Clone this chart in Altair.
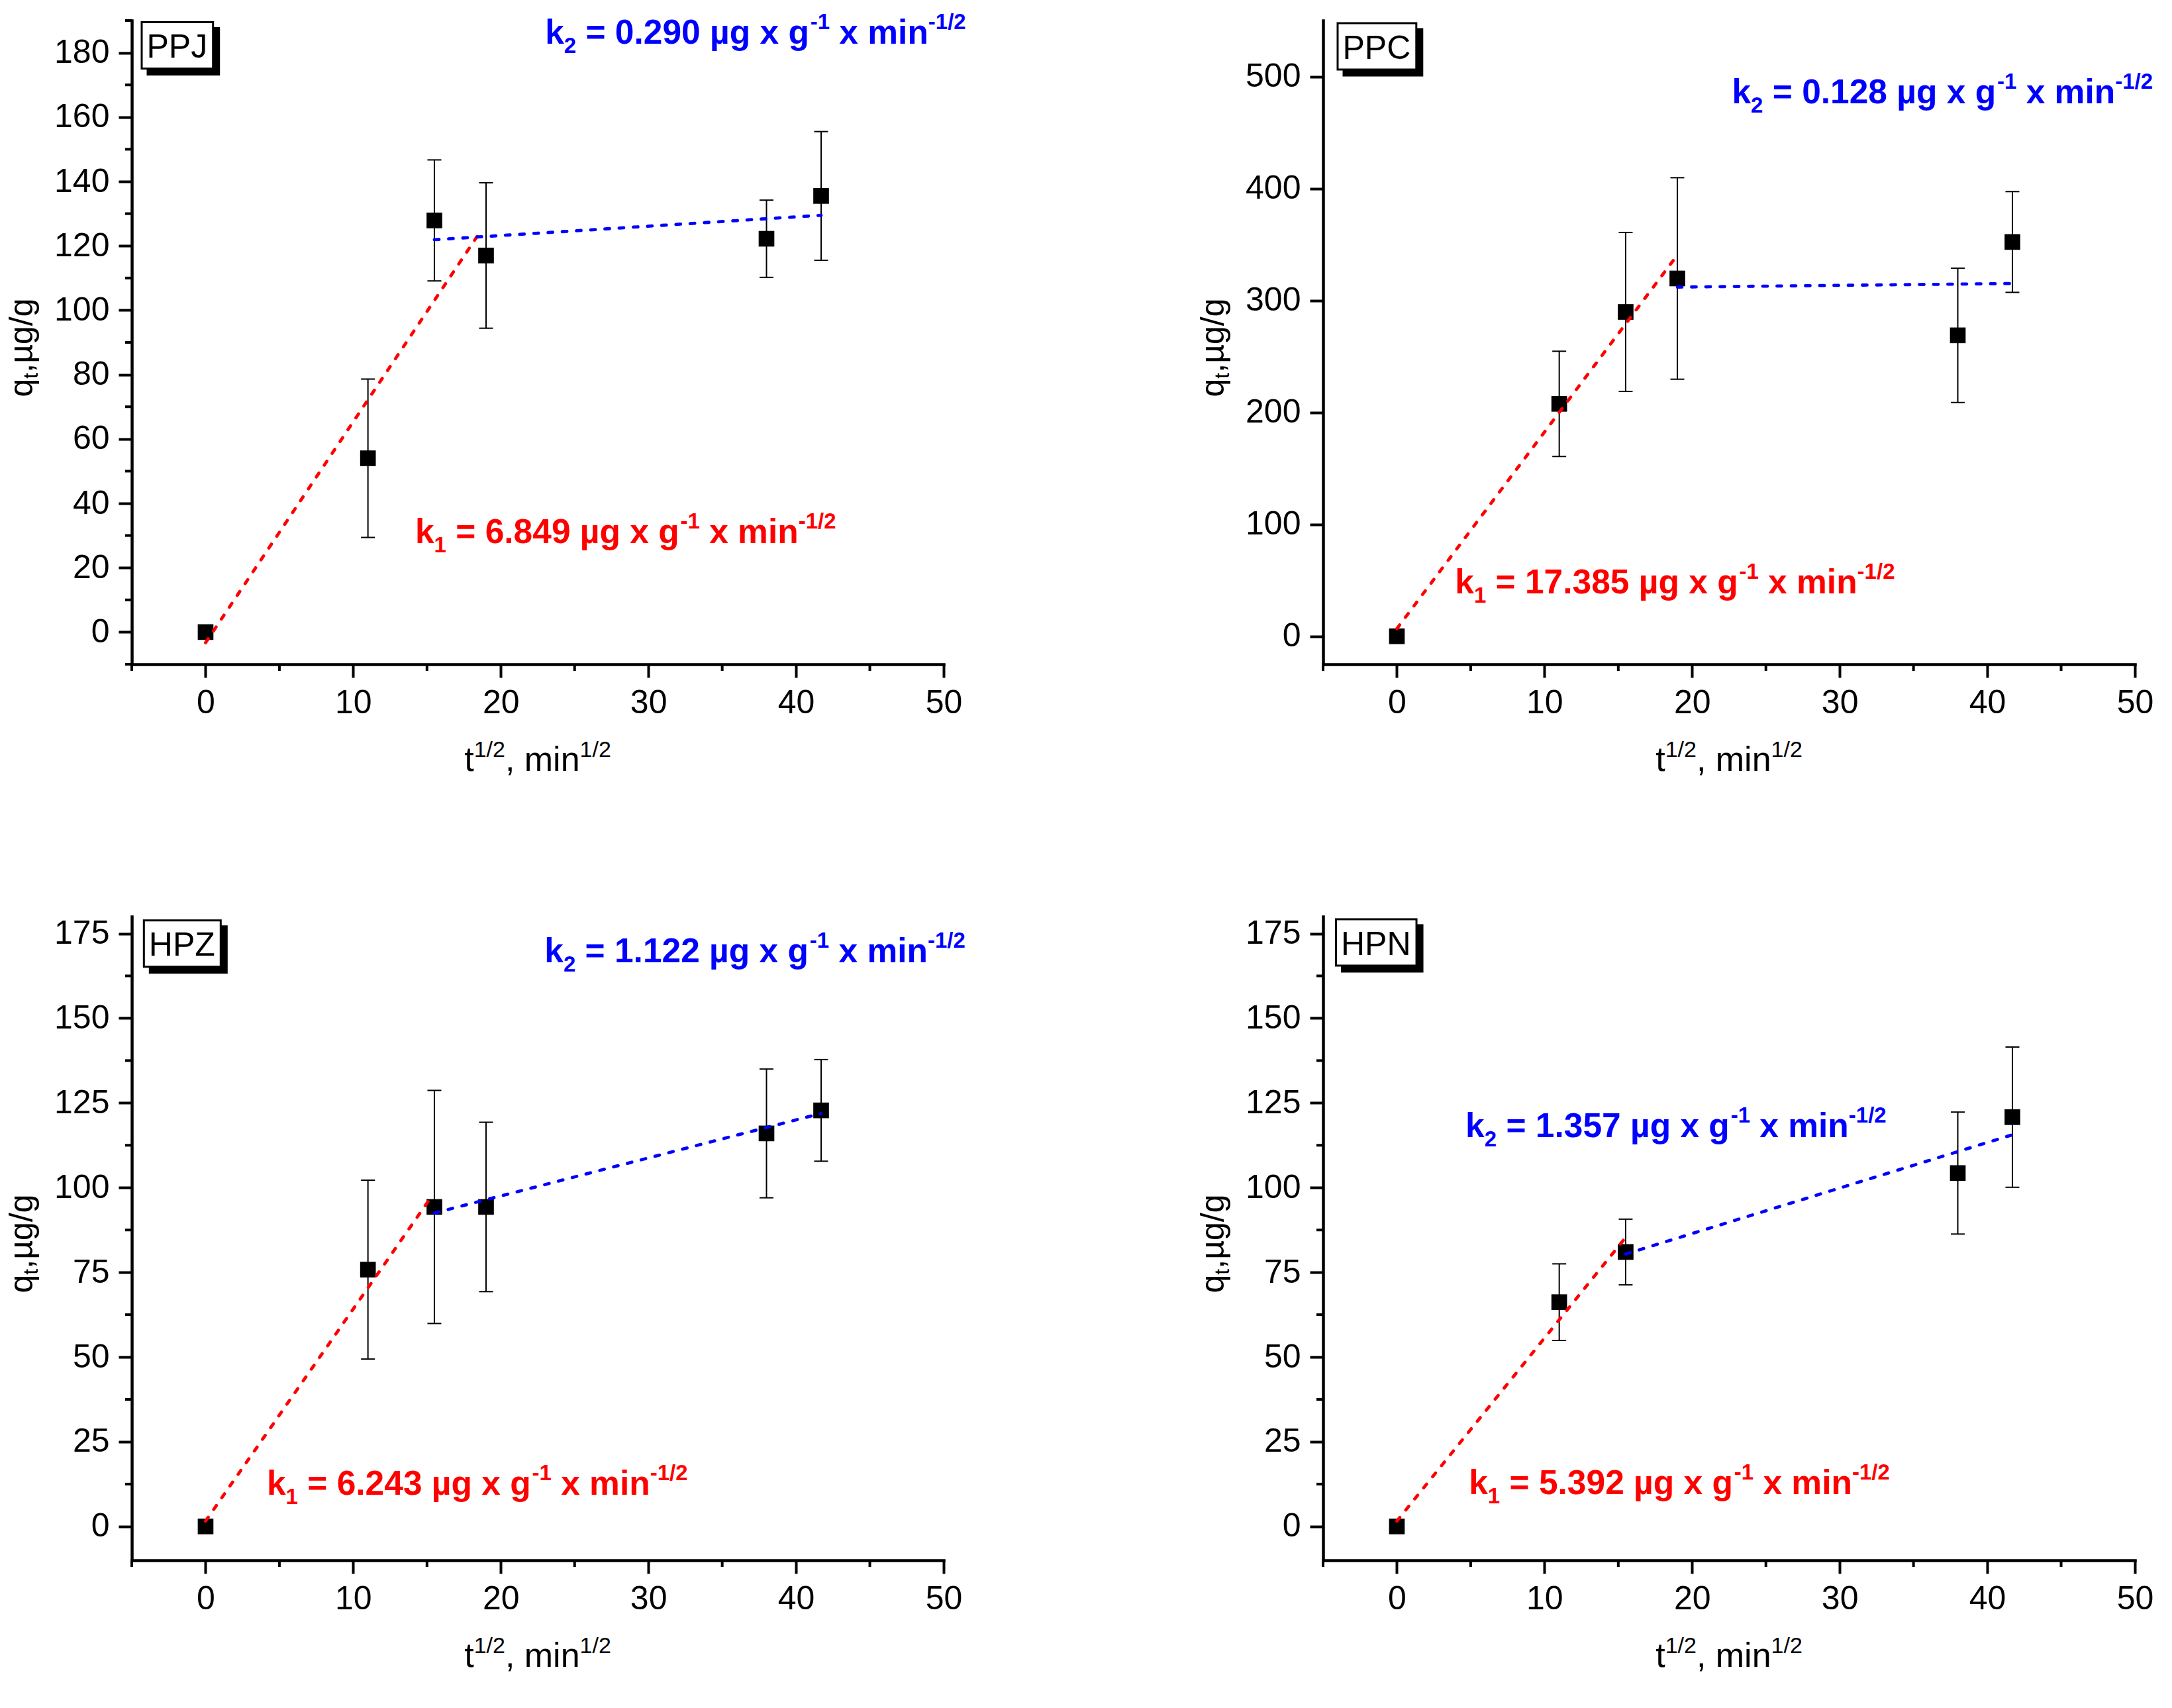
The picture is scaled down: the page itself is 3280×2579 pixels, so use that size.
import altair as alt
import pandas as pd

FONT = "Liberation Sans"

# ---------------- data ----------------
PANEL_NAMES = ["PPJ", "PPC", "HPZ", "HPN"]

T_SQRT = [0.0, 11.0, 15.5, 19.0, 38.0, 41.7]
T_SQRT_HPN = [0.0, 11.0, 15.5, 38.0, 41.7]

PPJ_Q = [0.0, 54.0, 127.9, 117.0, 122.2, 135.5]
PPJ_ERR = [0.0, 24.6, 18.8, 22.6, 12.0, 20.0]
PPC_Q = [0.0, 207.6, 289.7, 319.6, 268.8, 352.2]
PPC_ERR = [0.0, 47.0, 71.0, 90.0, 60.0, 45.0]
HPZ_Q = [0.0, 75.8, 94.3, 94.3, 116.0, 122.8]
HPZ_ERR = [0.0, 26.4, 34.4, 25.0, 19.0, 15.0]
HPN_Q = [0.0, 66.2, 81.0, 104.3, 120.8]
HPN_ERR = [0.0, 11.3, 9.7, 18.0, 20.7]

# fitted segments: x1, y1, x2, y2
PPJ_RED = [0.0, -3.3, 18.7, 125.0]
PPJ_BLUE = [15.5, 121.9, 41.7, 129.5]
PPC_RED = [0.0, 6.8, 18.8, 337.0]
PPC_BLUE = [19.0, 311.9, 41.7, 315.1]
HPZ_RED = [0.0, 1.6, 15.2, 96.7]
HPZ_BLUE = [15.5, 92.5, 41.7, 121.9]
HPN_RED = [0.0, 1.6, 15.5, 85.3]
HPN_BLUE = [15.5, 80.4, 41.7, 115.6]

K1_VALUES = ["6.849", "17.385", "6.243", "5.392"]
K2_VALUES = ["0.290", "0.128", "1.122", "1.357"]
K1_POS = [(14.2, 27.6), (3.94, 38.5), (4.15, 9.3), (4.88, 9.6)]
K2_POS = [(23.0, 182.9), (22.7, 476.0), (22.96, 166.6), (4.65, 114.9)]

X_MAJOR = [0, 10, 20, 30, 40, 50]
X_MINOR = [-5, 5, 15, 25, 35, 45]
Y_DOMAINS = [[-10, 190], [-25, 550], [-10, 180], [-10, 180]]
Y_MAJOR = [
    [0, 20, 40, 60, 80, 100, 120, 140, 160, 180],
    [0, 100, 200, 300, 400, 500],
    [0, 25, 50, 75, 100, 125, 150, 175],
    [0, 25, 50, 75, 100, 125, 150, 175],
]
Y_MINOR = [
    [-10, 10, 30, 50, 70, 90, 110, 130, 150, 170, 190],
    [],
    [12.5, 37.5, 62.5, 87.5, 112.5, 137.5, 162.5],
    [12.5, 37.5, 62.5, 87.5, 112.5, 137.5, 162.5],
]

# ---------------- layout ----------------
W, H = 1226, 972
HSPACE, VSPACE = 573, 381
MAIN, SMALL = 51.5, 33
BOX_POS = [(13.5, 1.0), (20.5, 2.5), (16.8, 4.3), (18.0, 2.6)]

REG = {" ": 278, ",": 278, "/": 278, "1": 556, "2": 556, "P": 667, "J": 500,
       "C": 722, "H": 722, "Z": 611, "N": 722, "q": 556, "t": 278, "µ": 576,
       "g": 556, "m": 833, "i": 222, "n": 556}
BOLD = {" ": 278, "=": 584, ".": 278, "-": 333, "/": 278, "k": 556, "µ": 611,
        "g": 611, "x": 556, "m": 889, "i": 278, "n": 611}
for _d in "0123456789":
    BOLD[_d] = 556


def tw(s, size, bold=False):
    tab = BOLD if bold else REG
    return sum(tab.get(c, 556) for c in s) * size / 1000.0


def one(**kw):
    return pd.DataFrame({k: [v] for k, v in kw.items()})


def panel(i, xs, qs, errs, red, blue, anchor=False):
    name = PANEL_NAMES[i]
    ydom = Y_DOMAINS[i]
    xaxis = alt.Axis(values=X_MAJOR, format="d", title=None, labelPadding=13)
    yaxis = alt.Axis(values=Y_MAJOR[i], format="d", title=None, labelPadding=14)

    def xenc(f):
        return alt.X(f"{f}:Q", scale=alt.Scale(domain=[-5, 50], nice=False, zero=False), axis=xaxis)

    def yenc(f):
        return alt.Y(f"{f}:Q", scale=alt.Scale(domain=ydom, nice=False, zero=False), axis=yaxis)

    layers = []
    if anchor:
        layers.append(alt.Chart(one(a=0)).mark_rule(color="white", strokeWidth=1).encode(
            x=alt.value(-190), x2=alt.value(-190), y=alt.value(-22.5), y2=alt.value(-21.5)))

    # minor ticks
    layers.append(alt.Chart(pd.DataFrame({"v": X_MINOR})).mark_rule(color="black", strokeWidth=4).encode(
        x=xenc("v"), y=alt.value(H), y2=alt.value(H + 10)))
    if Y_MINOR[i]:
        layers.append(alt.Chart(pd.DataFrame({"v": Y_MINOR[i]})).mark_rule(color="black", strokeWidth=4).encode(
            y=yenc("v"), x=alt.value(0), x2=alt.value(-10)))

    # error bars
    eb = pd.DataFrame({"x": xs, "q": qs, "e": errs})
    eb = eb[eb.e > 0].copy()
    eb["lo"] = eb.q - eb.e
    eb["hi"] = eb.q + eb.e
    layers.append(alt.Chart(eb).mark_rule(color="black", strokeWidth=2).encode(
        x=xenc("x"), y=yenc("lo"), y2="hi:Q"))
    caps = pd.DataFrame({"x": list(eb.x) * 2, "y": list(eb.lo) + list(eb.hi)})
    layers.append(alt.Chart(caps).mark_point(shape="M-1,0L1,0", size=441, filled=False,
                                             color="black", strokeWidth=2, opacity=1).encode(
        x=xenc("x"), y=yenc("y")))

    # data squares
    layers.append(alt.Chart(pd.DataFrame({"x": xs, "q": qs})).mark_square(
        size=560, color="black", opacity=1).encode(x=xenc("x"), y=yenc("q")))

    # fitted dashed lines
    for seg, col in ((red, "#ff0000"), (blue, "#0000ff")):
        df = pd.DataFrame({"x": [seg[0], seg[2]], "y": [seg[1], seg[3]]})
        layers.append(alt.Chart(df).mark_line(color=col, strokeWidth=4.8, strokeDash=[7, 14.5],
                                              strokeCap="round").encode(x=xenc("x"), y=yenc("y")))

    # rich-text annotations
    def rich(pos, sub, val, color):
        pieces = [("k", MAIN, 0), (sub, SMALL, 14), (f" = {val} µg x g", MAIN, 0),
                  ("-1", SMALL, -22), (" x min", MAIN, 0), ("-1/2", SMALL, -22)]
        off = 0.0
        out = []
        for text, size, dy in pieces:
            lead = len(text) - len(text.lstrip(" "))
            d = off + lead * tw(" ", size, True)
            out.append(alt.Chart(one(x=pos[0], y=pos[1], t=text.strip())).mark_text(
                align="left", baseline="alphabetic", font=FONT, fontSize=size, fontWeight="bold",
                color=color, dx=d, dy=dy).encode(x=xenc("x"), y=yenc("y"), text="t:N"))
            off += tw(text, size, True)
        return out

    layers += rich(K1_POS[i], "1", K1_VALUES[i], "#ff0000")
    layers += rich(K2_POS[i], "2", K2_VALUES[i], "#0000ff")

    # panel label box
    bx, by = BOX_POS[i]
    bw = tw(name, 50) + 19
    bh = 73
    layers.append(alt.Chart(one(a=0)).mark_rect(color="black").encode(
        x=alt.value(bx + 9), x2=alt.value(bx + bw + 9), y=alt.value(by + 9), y2=alt.value(by + bh + 9)))
    layers.append(alt.Chart(one(a=0)).mark_rect(fill="white", stroke="black", strokeWidth=3).encode(
        x=alt.value(bx + 1.5), x2=alt.value(bx + bw - 1.5), y=alt.value(by + 1.5), y2=alt.value(by + bh - 1.5)))
    layers.append(alt.Chart(one(t=name)).mark_text(
        align="left", baseline="alphabetic", font=FONT, fontSize=50, color="black").encode(
        x=alt.value(bx + 9), y=alt.value(by + 55), text="t:N"))

    # x-axis title: t^1/2, min^1/2
    xt = [("t", 52, 0), ("1/2", 34, -21), (", min", 52, 0), ("1/2", 34, -21)]
    total = sum(tw(t, s) for t, s, _ in xt)
    off = W / 2 - total / 2
    for text, size, dy in xt:
        layers.append(alt.Chart(one(t=text)).mark_text(
            align="left", baseline="alphabetic", font=FONT, fontSize=size, color="black", dy=dy).encode(
            x=alt.value(off), y=alt.value(H + 161), text="t:N"))
        off += tw(text, size)

    # y-axis title: q_t,µg/g (rotated)
    yt = [("q", 50, 0), ("t", 32, 8), (",µg/g", 50, 0)]
    total = sum(tw(t, s) for t, s, _ in yt)
    off = 0.0
    for text, size, dy in yt:
        layers.append(alt.Chart(one(t=text)).mark_text(
            align="left", baseline="alphabetic", font=FONT, fontSize=size, color="black",
            angle=270, dx=off, dy=dy).encode(
            x=alt.value(-150), y=alt.value(494 + total / 2), text="t:N"))
        off += tw(text, size)

    return alt.layer(*layers).properties(width=W, height=H)


p0 = panel(0, T_SQRT, PPJ_Q, PPJ_ERR, PPJ_RED, PPJ_BLUE, anchor=True)
p1 = panel(1, T_SQRT, PPC_Q, PPC_ERR, PPC_RED, PPC_BLUE)
p2 = panel(2, T_SQRT, HPZ_Q, HPZ_ERR, HPZ_RED, HPZ_BLUE)
p3 = panel(3, T_SQRT_HPN, HPN_Q, HPN_ERR, HPN_RED, HPN_BLUE)

chart = (
    alt.concat(p0, p1, p2, p3, columns=2,
               spacing={"row": VSPACE, "column": HSPACE}, bounds="flush")
    .properties(padding=0, background="white")
    .configure_view(stroke=None)
    .configure_axis(
        grid=False,
        labelFont=FONT, labelFontSize=50, labelColor="black",
        tickColor="black", tickSize=20, tickWidth=4,
        domainColor="black", domainWidth=4.5, domainCap="square",
        labelFlush=False, labelOverlap=False, labelAngle=0,
    )
)

chart.save("out.html", embed_options={"renderer": "svg", "actions": False})
